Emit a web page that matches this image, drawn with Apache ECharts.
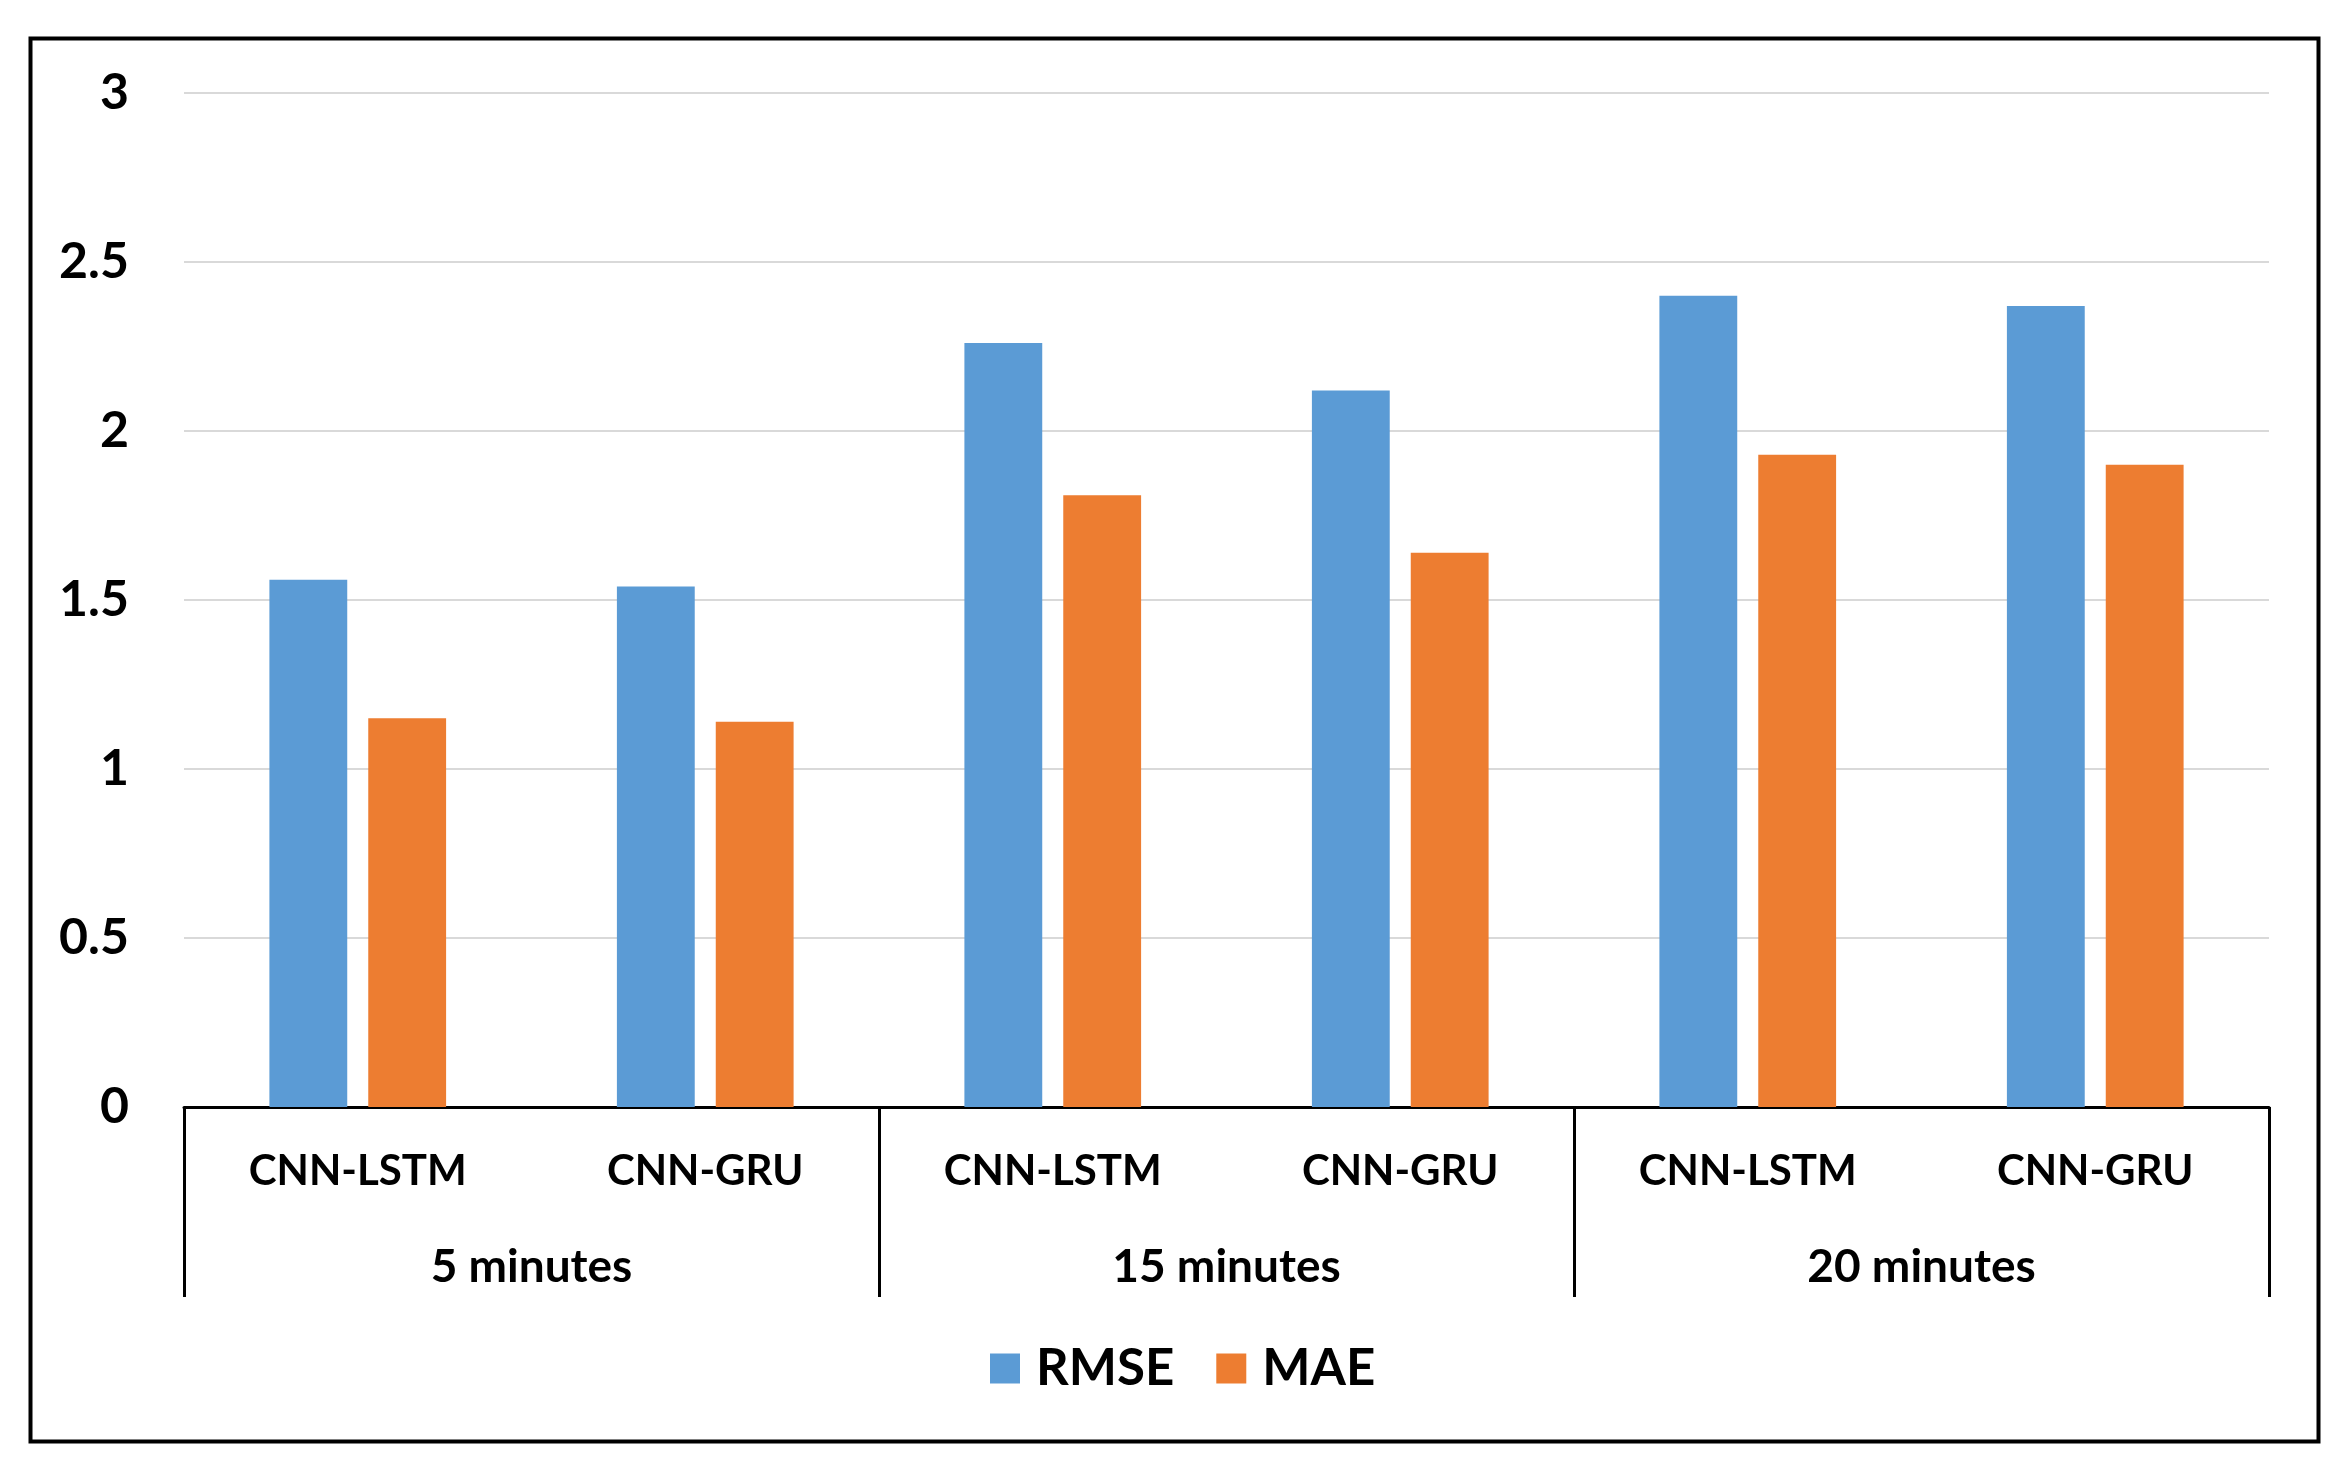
<!DOCTYPE html>
<html>
<head>
<meta charset="utf-8">
<script src="https://cdn.jsdelivr.net/npm/echarts@6/dist/echarts.min.js"></script>
<style>
html,body{margin:0;padding:0;background:#fff;}
#chart{width:2346px;height:1470px;}
</style>
</head>
<body>
<div id="chart"></div>
<script>
const models = ["CNN-LSTM", "CNN-GRU", "CNN-LSTM", "CNN-GRU", "CNN-LSTM", "CNN-GRU"];
const horizons = ["5 minutes", "15 minutes", "20 minutes"];
const rmse = [1.56, 1.54, 2.26, 2.12, 2.40, 2.37];
const mae = [1.15, 1.14, 1.81, 1.64, 1.93, 1.90];
const yTicks = { min: 0, max: 3, interval: 0.5 };

const FONT = "Lato, 'Open Sans', sans-serif";
const chart = echarts.init(document.getElementById('chart'));
chart.setOption({
  backgroundColor: '#ffffff',
  animation: false,
  graphic: [{
    type: 'rect',
    left: 28, top: 36,
    shape: { width: 2288, height: 1403 },
    style: { fill: 'none', stroke: '#000', lineWidth: 4 },
    silent: true
  }],
  legend: {
    left: 985, top: 1338,
    itemWidth: 30, itemHeight: 30, itemGap: 42,
    icon: 'rect',
    textStyle: { fontFamily: FONT, fontWeight: 'bold', fontSize: 51, color: '#000', padding: [0, 0, 0, 11] },
    data: ['RMSE', 'MAE']
  },
  grid: { left: 184, right: 77, top: 93, bottom: 363, containLabel: false },
  xAxis: [{
    type: 'category',
    data: models,
    position: 'bottom',
    axisLine: { show: true, lineStyle: { color: '#000', width: 3 } },
    axisTick: { show: false },
    axisLabel: { interval: 0, margin: 42, fontFamily: FONT, fontWeight: 'bold', fontSize: 42, lineHeight: 44, color: '#000' }
  }, {
    type: 'category',
    data: horizons,
    position: 'bottom',
    axisLine: { show: false },
    axisTick: { show: true, interval: 0, alignWithLabel: false, length: 190, lineStyle: { color: '#000', width: 3 } },
    axisLabel: { interval: 0, margin: 136, fontFamily: FONT, fontWeight: 'bold', fontSize: 46, lineHeight: 48, color: '#000' }
  }],
  yAxis: {
    type: 'value',
    min: yTicks.min, max: yTicks.max, interval: yTicks.interval,
    axisLine: { show: false },
    axisTick: { show: false },
    splitLine: { lineStyle: { color: '#D9D9D9', width: 2 } },
    axisLabel: { margin: 55, fontFamily: FONT, fontWeight: 'bold', fontSize: 50, color: '#000' }
  },
  series: [{
    name: 'RMSE', type: 'bar', xAxisIndex: 0,
    data: rmse, barWidth: '22.4%', barGap: '27%',
    itemStyle: { color: '#5B9BD5' }
  }, {
    name: 'MAE', type: 'bar', xAxisIndex: 0,
    data: mae, barWidth: '22.4%', barGap: '27%',
    itemStyle: { color: '#ED7D31' }
  }]
});
</script>
</body>
</html>
